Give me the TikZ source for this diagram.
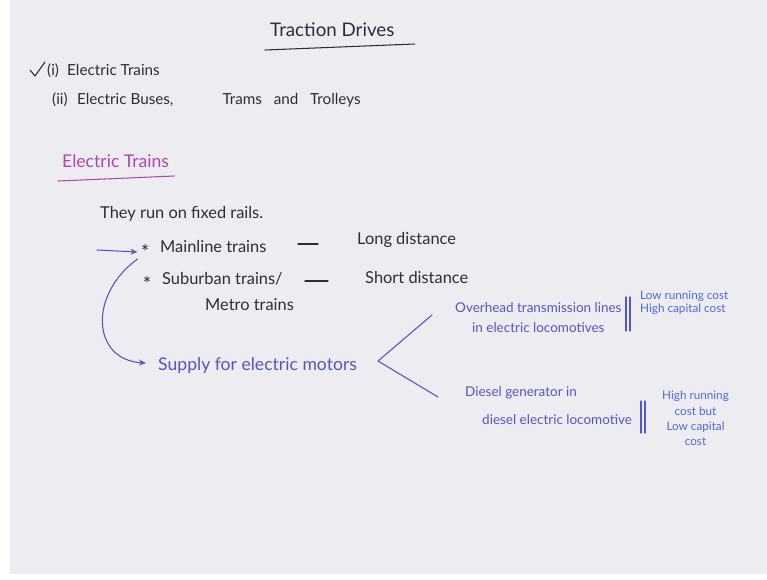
\documentclass[tikz,border=0pt]{standalone}
\usepackage{fontspec}
\setmainfont{Lato}
\usepackage{tikz}
\usetikzlibrary{positioning,arrows.meta,calc}

\definecolor{board}{RGB}{237,236,241}
\definecolor{ink}{RGB}{45,45,58}
\definecolor{pink}{RGB}{175,70,175}
\definecolor{pen}{RGB}{85,85,195}
\definecolor{notepen}{RGB}{80,105,215}

\begin{document}
\begin{tikzpicture}[x=0.03cm, y=-0.03cm,
    txt/.style={anchor=base west, inner sep=0pt, font=\fontsize{14}{16}\selectfont, text=#1},
    txt/.default=ink,
    bullet/.style={txt, font=\fontsize{17}{18}\selectfont, anchor=base east},
    branch/.style={txt=pen, font=\fontsize{11.5}{14}\selectfont},
    note/.style={anchor=north west, inner sep=0pt, font=\fontsize{10}{11}\selectfont, text=notepen, align=#1},
    note/.default=left,
    stroke/.style={line width=0.9pt, line cap=round, line join=round, color=#1},
    stroke/.default=ink,
    arr/.style={stroke=#1, -{Stealth[length=6pt, width=5pt]}}
]
    % Board
    \useasboundingbox (0,0) rectangle (767,579);
    \fill[white] (0,0) rectangle (767,579);
    \fill[board] (10,0) rectangle (767,574);

    % Title
    \node[txt, font=\fontsize{16}{18}\selectfont] (title) at (270,36) {Traction Drives};
    \draw[stroke] ($(title.base west)+(-5,14)$) -- ($(title.base east)+(20,8)$);

    % List
    \node[txt, font=\fontsize{13}{15}\selectfont] (first) at (47,75) {(i)\hspace{7pt}Electric Trains};
    \node[txt, font=\fontsize{13}{15}\selectfont] (second) at (52,104) {(ii)\hspace{8pt}Electric Buses,\hspace{42pt}Trams\hspace{10pt}and\hspace{10pt}Trolleys};
    \draw[stroke] (30,70) -- (35,76) -- (45,62);

    % Electric trains
    \node[txt=pink, font=\fontsize{15}{17}\selectfont] (heading) at (62,167) {Electric Trains};
    \draw[stroke=pink] ($(heading.base west)+(-4,14)$) -- ($(heading.base east)+(5,9)$);
    \node[txt] (rails) at (100,218) {They run on fixed rails.};

    \node[txt] (mainline) at (160,252) {Mainline trains};
    \node[bullet, left=9pt of mainline.base west] (star1) {\raisebox{-4pt}{*}};
    \node[txt] (long) at (357,244) {Long distance};
    \draw[stroke] (298,244) -- (318,244);

    \node[txt] (suburban) at (162,284) {Suburban trains/};
    \node[bullet, left=9pt of suburban.base west] (star2) {\raisebox{-4pt}{*}};
    \node[txt] (metro) at (205,310) {Metro trains};
    \node[txt] (short) at (365,283) {Short distance};
    \draw[stroke] (305,281) -- (328,281);

    % Supply
    \node[txt=pen, font=\fontsize{15}{17}\selectfont] (supply) at (158,370) {Supply for electric motors};
    \coordinate (mark) at (97,250);
    \draw[arr=pen] (mark) -- ($(star1.west)+(-3,0)$);
    \draw[arr=pen] ($(star1.west)+(-3,7)$) .. controls (88,295) and (92,360) .. ($(supply.west)+(-12,-2)$);

    % Branches
    \coordinate (fork) at (378,361);
    \coordinate (upper) at (432,315);
    \coordinate (lower) at (438,397);
    \draw[stroke=pen] (upper) -- (fork) -- (lower);

    \node[branch] (overhead) at (455,312) {Overhead transmission lines};
    \node[branch] (overhead2) at (472,332) {in electric locomotives};
    \draw[stroke=pen] (626,297) -- (626,331) (630,297) -- (630,331);
    \node[note] (cost1) at (640,291) {Low running cost\\High capital cost};

    \node[branch] (diesel) at (465,396) {Diesel generator in};
    \node[branch] (diesel2) at (482,424) {diesel electric locomotive};
    \draw[stroke=pen] (641,401) -- (641,433) (645,401) -- (645,433);
    \node[note=center, font=\fontsize{10}{13}\selectfont] (cost2) at (662,391) {High running\\cost but\\Low capital\\cost};

\end{tikzpicture}
\end{document}
